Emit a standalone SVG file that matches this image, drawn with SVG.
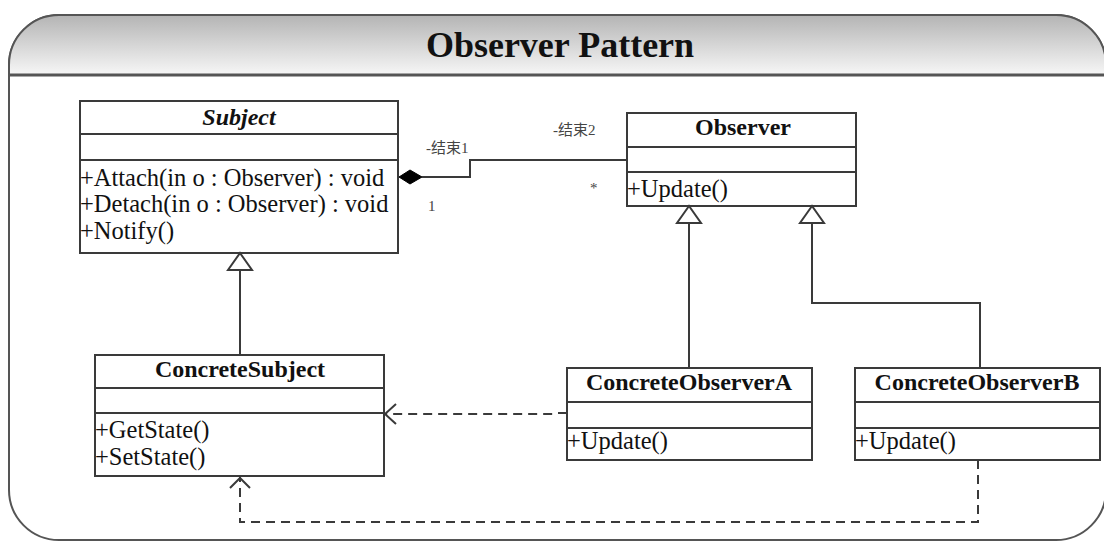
<svg xmlns="http://www.w3.org/2000/svg" width="1104" height="542" viewBox="0 0 1104 542">
<style>
.box{fill:#fff;stroke:#3a3a3a;stroke-width:2}
.sep{stroke:#3a3a3a;stroke-width:2}
.title{font-family:"Liberation Serif","Times New Roman",serif;font-weight:bold;font-size:24px;fill:#111;text-anchor:middle}
.op{font-family:"Liberation Serif","Times New Roman",serif;font-size:24.5px;fill:#111}
.lbl{font-family:"Liberation Serif","Noto Sans CJK SC",serif;font-size:15px;fill:#444}
.line{fill:none;stroke:#3a3a3a;stroke-width:2}
.dash{fill:none;stroke:#3a3a3a;stroke-width:2;stroke-dasharray:9 6}
.tri{fill:#fff;stroke:#3a3a3a;stroke-width:2}
</style>
<defs>
<linearGradient id="hdr" x1="0" y1="0" x2="0" y2="1">
<stop offset="0" stop-color="#b4b4b4"/>
<stop offset="1" stop-color="#f7f7f7"/>
</linearGradient>
</defs>
<g id="frame">
<rect x="9" y="15" width="1097" height="525" rx="50" ry="50" fill="#fff" stroke="#555" stroke-width="2"/>
<path d="M9,75 L9,65 A50,50 0 0 1 59,15 L1056,15 A50,50 0 0 1 1106,65 L1106,75 Z" fill="url(#hdr)" stroke="#555" stroke-width="2"/>
<line x1="9" y1="75" x2="1106" y2="75" stroke="#555" stroke-width="3"/>
<text x="560" y="57" font-family="'Liberation Serif','Times New Roman',serif" font-weight="bold" font-size="36" fill="#111" text-anchor="middle">Observer Pattern</text>
</g>
<g id="Subject">
<rect class="box" x="80" y="101" width="318" height="152"/>
<line class="sep" x1="80" y1="134" x2="398" y2="134"/>
<line class="sep" x1="80" y1="160" x2="398" y2="160"/>
<text class="title" x="239" y="125" font-style="italic">Subject</text>
<text class="op" x="80" y="186">+Attach(in o : Observer) : void</text>
<text class="op" x="80" y="212">+Detach(in o : Observer) : void</text>
<text class="op" x="80" y="239">+Notify()</text>
</g>
<g id="Observer">
<rect class="box" x="627" y="113" width="229" height="93"/>
<line class="sep" x1="627" y1="147" x2="856" y2="147"/>
<line class="sep" x1="627" y1="172" x2="856" y2="172"/>
<text class="title" x="743" y="135">Observer</text>
<text class="op" x="627" y="197">+Update()</text>
</g>
<g id="ConcreteSubject">
<rect class="box" x="95" y="355" width="289" height="121"/>
<line class="sep" x1="95" y1="388" x2="384" y2="388"/>
<line class="sep" x1="95" y1="413" x2="384" y2="413"/>
<text class="title" x="240" y="377">ConcreteSubject</text>
<text class="op" x="95" y="438">+GetState()</text>
<text class="op" x="95" y="465">+SetState()</text>
</g>
<g id="ConcreteObserverA">
<rect class="box" x="567" y="368" width="245" height="92"/>
<line class="sep" x1="567" y1="402" x2="812" y2="402"/>
<line class="sep" x1="567" y1="428" x2="812" y2="428"/>
<text class="title" x="689" y="390">ConcreteObserverA</text>
<text class="op" x="567" y="449">+Update()</text>
</g>
<g id="ConcreteObserverB">
<rect class="box" x="855" y="368" width="245" height="92"/>
<line class="sep" x1="855" y1="402" x2="1100" y2="402"/>
<line class="sep" x1="855" y1="428" x2="1100" y2="428"/>
<text class="title" x="977" y="390">ConcreteObserverB</text>
<text class="op" x="855" y="449">+Update()</text>
</g>
<g id="connectors">
<polyline class="line" points="422,177 470,177 470,160 627,160"/>
<polygon points="399,177 410,170 422,177 410,184" fill="#000" stroke="#000" stroke-width="1"/>
<text class="lbl" x="426" y="153">-结束1</text>
<text class="lbl" x="553" y="135">-结束2</text>
<text class="lbl" x="590" y="193">*</text>
<text class="lbl" x="428" y="211">1</text>
<line class="line" x1="240" y1="270" x2="240" y2="355"/>
<polygon class="tri" points="240,253 228,270 252,270"/>
<line class="line" x1="689" y1="223" x2="689" y2="368"/>
<polygon class="tri" points="689,206 677,223 701,223"/>
<polyline class="line" points="812,223 812,303 980,303 980,368"/>
<polygon class="tri" points="812,206 800,223 824,223"/>
<polyline class="dash" points="567,413 557,413 554,414 384,414"/>
<polyline class="line" points="396,404 385,414 396,424"/>
<polyline class="dash" points="978,460 978,522 240,522 240,477"/>
<polyline class="line" points="230,488 240,478 250,488"/>
</g>
</svg>
